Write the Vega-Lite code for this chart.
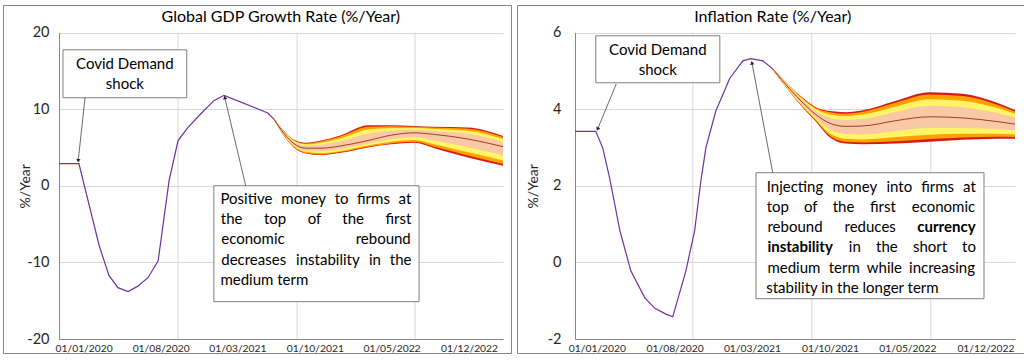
{
  "$schema": "https://vega.github.io/schema/vega-lite/v6.json",
  "background": "white",
  "padding": {"left": 2, "top": 4, "right": 0, "bottom": 0},
  "spacing": 4,
  "config": {
    "font": "Lato",
    "view": {"stroke": "#848484", "strokeWidth": 1},
    "axis": {"labelFont": "Lato", "titleFont": "Lato", "labelColor": "#262626", "titleColor": "#262626", "domainColor": "#868686", "gridColor": "#D9D9D9", "ticks": false}
  },
  "datasets": {
    "gdp": [
      {"date": "2019/10/25", "v": 2.9},
      {"date": "2019/12/19", "v": 2.9},
      {"date": "2020/02/13", "v": -7.8},
      {"date": "2020/03/11", "v": -11.7},
      {"date": "2020/04/05", "v": -13.3},
      {"date": "2020/05/03", "v": -13.8},
      {"date": "2020/05/30", "v": -13.1},
      {"date": "2020/06/27", "v": -12.0},
      {"date": "2020/07/25", "v": -9.8},
      {"date": "2020/08/24", "v": 0.6},
      {"date": "2020/09/18", "v": 5.9},
      {"date": "2020/10/15", "v": 7.6},
      {"date": "2020/11/20", "v": 9.4},
      {"date": "2020/12/26", "v": 11.1},
      {"date": "2021/01/23", "v": 11.8},
      {"date": "2021/05/24", "v": 9.5},
      {"date": "2021/06/10", "v": 8.7}
    ],
    "gdpFan": [
      {"date": "2021/06/10", "hi3": 8.8, "hi2": 8.79, "hi1": 8.77, "hi0": 8.75, "mid": 8.7, "lo0": 8.65, "lo1": 8.63, "lo2": 8.61, "lo3": 8.6},
      {"date": "2021/07/08", "hi3": 7.1, "hi2": 7.07, "hi1": 7.02, "hi0": 6.94, "mid": 6.8, "lo0": 6.67, "lo1": 6.59, "lo2": 6.53, "lo3": 6.5},
      {"date": "2021/08/04", "hi3": 6.0, "hi2": 5.95, "hi1": 5.86, "hi0": 5.73, "mid": 5.5, "lo0": 5.28, "lo1": 5.14, "lo2": 5.05, "lo3": 5.0},
      {"date": "2021/09/06", "hi3": 5.6, "hi2": 5.53, "hi1": 5.4, "hi0": 5.22, "mid": 4.9, "lo0": 4.58, "lo1": 4.4, "lo2": 4.27, "lo3": 4.2},
      {"date": "2021/10/18", "hi3": 5.9, "hi2": 5.8, "hi1": 5.62, "hi0": 5.35, "mid": 4.9, "lo0": 4.5, "lo1": 4.25, "lo2": 4.09, "lo3": 4.0},
      {"date": "2021/12/12", "hi3": 6.6, "hi2": 6.46, "hi1": 6.21, "hi0": 5.83, "mid": 5.2, "lo0": 4.8, "lo1": 4.55, "lo2": 4.39, "lo3": 4.3},
      {"date": "2022/02/25", "hi3": 7.9, "hi2": 7.7, "hi1": 7.34, "hi0": 6.8, "mid": 5.9, "lo0": 5.5, "lo1": 5.25, "lo2": 5.09, "lo3": 5.0},
      {"date": "2022/04/30", "hi3": 7.9, "hi2": 7.77, "hi1": 7.54, "hi0": 7.19, "mid": 6.6, "lo0": 6.06, "lo1": 5.74, "lo2": 5.52, "lo3": 5.4},
      {"date": "2022/07/02", "hi3": 7.8, "hi2": 7.71, "hi1": 7.55, "hi0": 7.31, "mid": 6.9, "lo0": 6.32, "lo1": 5.96, "lo2": 5.73, "lo3": 5.6},
      {"date": "2022/08/27", "hi3": 7.7, "hi2": 7.6, "hi1": 7.42, "hi0": 7.15, "mid": 6.7, "lo0": 5.89, "lo1": 5.4, "lo2": 5.08, "lo3": 4.9},
      {"date": "2022/11/28", "hi3": 7.6, "hi2": 7.45, "hi1": 7.18, "hi0": 6.78, "mid": 6.1, "lo0": 5.02, "lo1": 4.37, "lo2": 3.94, "lo3": 3.7},
      {"date": "2023/03/05", "hi3": 6.5, "hi2": 6.36, "hi1": 6.11, "hi0": 5.73, "mid": 5.1, "lo0": 3.98, "lo1": 3.3, "lo2": 2.85, "lo3": 2.6}
    ],
    "gdpGrid": [{"date": "2020/09/18", "lo": -20, "hi": 20}, {"date": "2021/08/13", "lo": -20, "hi": 20}, {"date": "2022/07/05", "lo": -20, "hi": 20}],
    "gdpBox": [
      {"date": "2019/11/05", "date2": "2020/10/12", "v": 17.74, "v2": 11.48},
      {"date": "2020/12/26", "date2": "2022/07/16", "v": 0, "v2": -15.13}
    ],
    "gdpArrow": [
      {"id": "a", "date": "2020/01/05", "v": 11.48, "date2": "2019/12/17", "v2": 3.26},
      {"id": "b", "date": "2021/03/24", "v": 0, "date2": "2021/01/25", "v2": 11.52}
    ],
    "gdpText": [
      {"k": "h", "date": "2021/06/29", "v": 21.98, "t": "Global GDP Growth Rate (%/Year)"},
      {"k": "c", "date": "2020/04/24", "v": 15.92, "t": "Covid Demand"},
      {"k": "c", "date": "2020/04/24", "v": 13.31, "t": "shock"},
      {"k": "c", "date": "2021/03/26", "v": -1.74, "t": "Positive"},
      {"k": "c", "date": "2021/08/31", "v": -1.74, "t": "money"},
      {"k": "c", "date": "2021/12/14", "v": -1.74, "t": "to"},
      {"k": "c", "date": "2022/03/12", "v": -1.74, "t": "firms"},
      {"k": "c", "date": "2022/06/07", "v": -1.74, "t": "at"},
      {"k": "c", "date": "2021/02/13", "v": -4.34, "t": "the"},
      {"k": "c", "date": "2021/06/13", "v": -4.34, "t": "top"},
      {"k": "c", "date": "2021/09/30", "v": -4.34, "t": "of"},
      {"k": "c", "date": "2022/01/15", "v": -4.34, "t": "the"},
      {"k": "c", "date": "2022/05/20", "v": -4.34, "t": "first"},
      {"k": "c", "date": "2021/04/13", "v": -6.95, "t": "economic"},
      {"k": "c", "date": "2022/04/08", "v": -6.95, "t": "rebound"},
      {"k": "c", "date": "2021/04/15", "v": -9.65, "t": "decreases"},
      {"k": "c", "date": "2021/11/06", "v": -9.65, "t": "instability"},
      {"k": "c", "date": "2022/03/16", "v": -9.65, "t": "in"},
      {"k": "c", "date": "2022/05/26", "v": -9.65, "t": "the"},
      {"k": "l", "date": "2021/01/13", "v": -12.26, "t": "medium term"}
    ],
    "inf": [
      {"date": "2019/11/02", "v": 3.42},
      {"date": "2019/12/29", "v": 3.42},
      {"date": "2020/01/17", "v": 2.99},
      {"date": "2020/02/05", "v": 2.2},
      {"date": "2020/03/04", "v": 0.83},
      {"date": "2020/04/03", "v": -0.22},
      {"date": "2020/05/11", "v": -0.92},
      {"date": "2020/06/08", "v": -1.2},
      {"date": "2020/07/08", "v": -1.35},
      {"date": "2020/07/27", "v": -1.42},
      {"date": "2020/09/01", "v": -0.22},
      {"date": "2020/09/25", "v": 0.83},
      {"date": "2020/10/12", "v": 2.13},
      {"date": "2020/10/26", "v": 3.0},
      {"date": "2020/11/22", "v": 3.95},
      {"date": "2020/12/30", "v": 4.8},
      {"date": "2021/02/04", "v": 5.26},
      {"date": "2021/02/26", "v": 5.32},
      {"date": "2021/03/31", "v": 5.26},
      {"date": "2021/04/27", "v": 5.05}
    ],
    "infFan": [
      {"date": "2021/04/27", "hi3": 5.07, "hi2": 5.07, "hi1": 5.06, "hi0": 5.06, "mid": 5.05, "lo0": 5.04, "lo1": 5.04, "lo2": 5.03, "lo3": 5.03},
      {"date": "2021/06/13", "hi3": 4.6, "hi2": 4.59, "hi1": 4.58, "hi0": 4.56, "mid": 4.52, "lo0": 4.48, "lo1": 4.46, "lo2": 4.45, "lo3": 4.44},
      {"date": "2021/07/19", "hi3": 4.29, "hi2": 4.28, "hi1": 4.25, "hi0": 4.22, "mid": 4.16, "lo0": 4.1, "lo1": 4.07, "lo2": 4.04, "lo3": 4.03},
      {"date": "2021/08/23", "hi3": 4.05, "hi2": 4.03, "hi1": 4.0, "hi0": 3.95, "mid": 3.86, "lo0": 3.78, "lo1": 3.73, "lo2": 3.7, "lo3": 3.68},
      {"date": "2021/10/01", "hi3": 3.95, "hi2": 3.92, "hi1": 3.86, "hi0": 3.77, "mid": 3.63, "lo0": 3.46, "lo1": 3.36, "lo2": 3.3, "lo3": 3.26},
      {"date": "2021/11/13", "hi3": 3.92, "hi2": 3.88, "hi1": 3.82, "hi0": 3.72, "mid": 3.55, "lo0": 3.35, "lo1": 3.23, "lo2": 3.15, "lo3": 3.1},
      {"date": "2021/12/30", "hi3": 3.97, "hi2": 3.93, "hi1": 3.86, "hi0": 3.74, "mid": 3.56, "lo0": 3.34, "lo1": 3.21, "lo2": 3.13, "lo3": 3.08},
      {"date": "2022/03/31", "hi3": 4.22, "hi2": 4.17, "hi1": 4.07, "hi0": 3.93, "mid": 3.7, "lo0": 3.43, "lo1": 3.27, "lo2": 3.16, "lo3": 3.1},
      {"date": "2022/07/01", "hi3": 4.44, "hi2": 4.38, "hi1": 4.26, "hi0": 4.09, "mid": 3.8, "lo0": 3.51, "lo1": 3.33, "lo2": 3.22, "lo3": 3.15},
      {"date": "2022/09/30", "hi3": 4.4, "hi2": 4.34, "hi1": 4.22, "hi0": 4.05, "mid": 3.77, "lo0": 3.51, "lo1": 3.36, "lo2": 3.26, "lo3": 3.2},
      {"date": "2022/12/29", "hi3": 4.18, "hi2": 4.13, "hi1": 4.04, "hi0": 3.91, "mid": 3.68, "lo0": 3.48, "lo1": 3.36, "lo2": 3.28, "lo3": 3.23},
      {"date": "2023/02/20", "hi3": 3.98, "hi2": 3.94, "hi1": 3.88, "hi0": 3.78, "mid": 3.61, "lo0": 3.44, "lo1": 3.34, "lo2": 3.27, "lo3": 3.23}
    ],
    "infGrid": [{"date": "2020/09/20", "lo": -2, "hi": 6}, {"date": "2021/08/12", "lo": -2, "hi": 6}, {"date": "2022/07/04", "lo": -2, "hi": 6}],
    "infBox": [
      {"date": "2019/12/29", "date2": "2020/12/03", "v": 5.914, "v2": 4.688},
      {"date": "2021/03/12", "date2": "2022/11/27", "v": 2.34, "v2": -0.948}
    ],
    "infArrow": [
      {"id": "a", "date": "2020/02/23", "v": 4.654, "date2": "2020/01/03", "v2": 3.48},
      {"id": "b", "date": "2021/04/27", "v": 2.34, "date2": "2021/03/01", "v2": 5.21}
    ],
    "infText": [
      {"k": "h", "date": "2021/04/27", "v": 6.397, "t": "Inflation Rate (%/Year)"},
      {"k": "c", "date": "2020/06/16", "v": 5.549, "t": "Covid Demand"},
      {"k": "c", "date": "2020/06/16", "v": 5.027, "t": "shock"},
      {"k": "c", "date": "2021/06/27", "v": 1.956, "t": "Injecting"},
      {"k": "c", "date": "2021/12/08", "v": 1.956, "t": "money"},
      {"k": "c", "date": "2022/04/09", "v": 1.956, "t": "into"},
      {"k": "c", "date": "2022/07/23", "v": 1.956, "t": "firms"},
      {"k": "c", "date": "2022/10/18", "v": 1.956, "t": "at"},
      {"k": "c", "date": "2021/05/11", "v": 1.434, "t": "top"},
      {"k": "c", "date": "2021/08/09", "v": 1.434, "t": "of"},
      {"k": "c", "date": "2021/11/07", "v": 1.434, "t": "the"},
      {"k": "c", "date": "2022/02/23", "v": 1.434, "t": "first"},
      {"k": "c", "date": "2022/08/08", "v": 1.434, "t": "economic"},
      {"k": "c", "date": "2021/06/27", "v": 0.913, "t": "rebound"},
      {"k": "c", "date": "2022/01/19", "v": 0.913, "t": "reduces"},
      {"k": "b", "date": "2022/08/16", "v": 0.913, "t": "currency"},
      {"k": "b", "date": "2021/07/11", "v": 0.391, "t": "instability"},
      {"k": "c", "date": "2021/12/08", "v": 0.391, "t": "in"},
      {"k": "c", "date": "2022/03/06", "v": 0.391, "t": "the"},
      {"k": "c", "date": "2022/07/02", "v": 0.391, "t": "short"},
      {"k": "c", "date": "2022/10/17", "v": 0.391, "t": "to"},
      {"k": "c", "date": "2021/06/24", "v": -0.147, "t": "medium"},
      {"k": "c", "date": "2021/11/09", "v": -0.147, "t": "term"},
      {"k": "c", "date": "2022/02/27", "v": -0.147, "t": "while"},
      {"k": "c", "date": "2022/08/04", "v": -0.147, "t": "increasing"},
      {"k": "l", "date": "2021/04/09", "v": -0.668, "t": "stability in the longer term"}
    ]
  },
  "hconcat": [
    {
      "width": 508,
      "height": 348,
      "encoding": {
        "x": {"field": "date", "type": "temporal",
          "scale": {"domain": [{"year": 2019, "month": 10, "date": 25}, {"year": 2023, "month": 3, "date": 5}], "range": [56, 500], "nice": false},
          "axis": {"values": [{"year": 2020, "month": 1, "date": 1}, {"year": 2020, "month": 8, "date": 1}, {"year": 2021, "month": 3, "date": 1}, {"year": 2021, "month": 10, "date": 1}, {"year": 2022, "month": 5, "date": 1}, {"year": 2022, "month": 12, "date": 1}], "format": "%d/%m/%Y", "title": null, "grid": false, "labelFontSize": 10.3, "labelPadding": 4, "offset": -14, "labelOverlap": false, "labelFlush": false}},
        "y": {"field": "v", "type": "quantitative",
          "scale": {"domain": [-20, 20], "range": [334, 27.5], "nice": false, "zero": false},
          "axis": {"values": [-20, -10, 0, 10, 20], "labelExpr": "'' + datum.value", "title": "%/Year", "grid": true, "labelFontSize": 14.5, "labelPadding": 10, "offset": -56, "titleFontSize": 14, "titleFontWeight": "normal", "titlePadding": -6}}
      },
      "layer": [
        {"data": {"name": "gdpGrid"}, "mark": {"type": "rule", "color": "#D9D9D9", "strokeWidth": 1}, "encoding": {"y": {"field": "lo", "type": "quantitative"}, "y2": {"field": "hi"}}},
        {"data": {"name": "gdpFan"}, "mark": {"type": "area", "color": "#D7191C", "interpolate": "monotone"}, "encoding": {"y": {"field": "hi3", "type": "quantitative"}, "y2": {"field": "lo3"}}},
        {"data": {"name": "gdpFan"}, "mark": {"type": "area", "color": "#FFA200", "interpolate": "monotone"}, "encoding": {"y": {"field": "hi2", "type": "quantitative"}, "y2": {"field": "lo2"}}},
        {"data": {"name": "gdpFan"}, "mark": {"type": "area", "color": "#FFF566", "interpolate": "monotone"}, "encoding": {"y": {"field": "hi1", "type": "quantitative"}, "y2": {"field": "lo1"}}},
        {"data": {"name": "gdpFan"}, "mark": {"type": "area", "color": "#F9C9A5", "interpolate": "monotone"}, "encoding": {"y": {"field": "hi0", "type": "quantitative"}, "y2": {"field": "lo0"}}},
        {"data": {"name": "gdpFan"}, "mark": {"type": "line", "color": "#9E3D2B", "strokeWidth": 1, "interpolate": "monotone"}, "encoding": {"y": {"field": "mid", "type": "quantitative"}}},
        {"data": {"name": "gdp"}, "mark": {"type": "line", "color": "#7030A0", "strokeWidth": 1.2}},
        {"data": {"name": "gdpBox"}, "mark": {"type": "rect", "fill": "white", "stroke": "#7F7F7F", "strokeWidth": 1}, "encoding": {"x2": {"field": "date2"}, "y2": {"field": "v2"}}},
        {"data": {"name": "gdpArrow"}, "mark": {"type": "rule", "color": "#595959", "strokeWidth": 0.9}, "encoding": {"x2": {"field": "date2"}, "y2": {"field": "v2"}}},
        {"data": {"name": "gdpArrow"}, "transform": [{"filter": "datum.id == 'a'"}], "mark": {"type": "point", "shape": "triangle-up", "angle": 187, "filled": true, "color": "#222222", "size": 18, "opacity": 1}, "encoding": {"x": {"field": "date2", "type": "temporal"}, "y": {"field": "v2", "type": "quantitative"}}},
        {"data": {"name": "gdpArrow"}, "transform": [{"filter": "datum.id == 'b'"}], "mark": {"type": "point", "shape": "triangle-up", "angle": 346, "filled": true, "color": "#222222", "size": 18, "opacity": 1}, "encoding": {"x": {"field": "date2", "type": "temporal"}, "y": {"field": "v2", "type": "quantitative"}}},
        {"data": {"name": "gdpText"}, "transform": [{"filter": "datum.k == 'h'"}], "mark": {"type": "text", "align": "center", "baseline": "middle", "fontSize": 16, "font": "Lato", "color": "#000000"}, "encoding": {"text": {"field": "t"}}},
        {"data": {"name": "gdpText"}, "transform": [{"filter": "datum.k == 'c'"}], "mark": {"type": "text", "align": "center", "baseline": "middle", "fontSize": 15, "font": "Lato", "color": "#000000"}, "encoding": {"text": {"field": "t"}}},
        {"data": {"name": "gdpText"}, "transform": [{"filter": "datum.k == 'l'"}], "mark": {"type": "text", "align": "left", "baseline": "middle", "fontSize": 15, "font": "Lato", "color": "#000000"}, "encoding": {"text": {"field": "t"}}}
      ]
    },
    {
      "width": 508,
      "height": 348,
      "encoding": {
        "x": {"field": "date", "type": "temporal",
          "scale": {"domain": [{"year": 2019, "month": 11, "date": 2}, {"year": 2023, "month": 2, "date": 20}], "range": [58, 498], "nice": false},
          "axis": {"values": [{"year": 2020, "month": 1, "date": 1}, {"year": 2020, "month": 8, "date": 1}, {"year": 2021, "month": 3, "date": 1}, {"year": 2021, "month": 10, "date": 1}, {"year": 2022, "month": 5, "date": 1}, {"year": 2022, "month": 12, "date": 1}], "format": "%d/%m/%Y", "title": null, "grid": false, "labelFontSize": 10.3, "labelPadding": 4, "offset": -14, "labelOverlap": false, "labelFlush": false}},
        "y": {"field": "v", "type": "quantitative",
          "scale": {"domain": [-2, 6], "range": [334, 27.5], "nice": false, "zero": false},
          "axis": {"values": [-2, 0, 2, 4, 6], "labelExpr": "'' + datum.value", "title": "%/Year", "grid": true, "labelFontSize": 14.5, "labelPadding": 14, "offset": -58, "titleFontSize": 14, "titleFontWeight": "normal", "titlePadding": 7}}
      },
      "layer": [
        {"data": {"name": "infGrid"}, "mark": {"type": "rule", "color": "#D9D9D9", "strokeWidth": 1}, "encoding": {"y": {"field": "lo", "type": "quantitative"}, "y2": {"field": "hi"}}},
        {"data": {"name": "infFan"}, "mark": {"type": "area", "color": "#D7191C", "interpolate": "monotone"}, "encoding": {"y": {"field": "hi3", "type": "quantitative"}, "y2": {"field": "lo3"}}},
        {"data": {"name": "infFan"}, "mark": {"type": "area", "color": "#FFA200", "interpolate": "monotone"}, "encoding": {"y": {"field": "hi2", "type": "quantitative"}, "y2": {"field": "lo2"}}},
        {"data": {"name": "infFan"}, "mark": {"type": "area", "color": "#FFF566", "interpolate": "monotone"}, "encoding": {"y": {"field": "hi1", "type": "quantitative"}, "y2": {"field": "lo1"}}},
        {"data": {"name": "infFan"}, "mark": {"type": "area", "color": "#F9C9A5", "interpolate": "monotone"}, "encoding": {"y": {"field": "hi0", "type": "quantitative"}, "y2": {"field": "lo0"}}},
        {"data": {"name": "infFan"}, "mark": {"type": "line", "color": "#9E3D2B", "strokeWidth": 1, "interpolate": "monotone"}, "encoding": {"y": {"field": "mid", "type": "quantitative"}}},
        {"data": {"name": "inf"}, "mark": {"type": "line", "color": "#7030A0", "strokeWidth": 1.2}},
        {"data": {"name": "infBox"}, "mark": {"type": "rect", "fill": "white", "stroke": "#7F7F7F", "strokeWidth": 1}, "encoding": {"x2": {"field": "date2"}, "y2": {"field": "v2"}}},
        {"data": {"name": "infArrow"}, "mark": {"type": "rule", "color": "#595959", "strokeWidth": 0.9}, "encoding": {"x2": {"field": "date2"}, "y2": {"field": "v2"}}},
        {"data": {"name": "infArrow"}, "transform": [{"filter": "datum.id == 'a'"}], "mark": {"type": "point", "shape": "triangle-up", "angle": 202, "filled": true, "color": "#222222", "size": 18, "opacity": 1}, "encoding": {"x": {"field": "date2", "type": "temporal"}, "y": {"field": "v2", "type": "quantitative"}}},
        {"data": {"name": "infArrow"}, "transform": [{"filter": "datum.id == 'b'"}], "mark": {"type": "point", "shape": "triangle-up", "angle": 350, "filled": true, "color": "#222222", "size": 18, "opacity": 1}, "encoding": {"x": {"field": "date2", "type": "temporal"}, "y": {"field": "v2", "type": "quantitative"}}},
        {"data": {"name": "infText"}, "transform": [{"filter": "datum.k == 'h'"}], "mark": {"type": "text", "align": "center", "baseline": "middle", "fontSize": 16, "font": "Lato", "color": "#000000"}, "encoding": {"text": {"field": "t"}}},
        {"data": {"name": "infText"}, "transform": [{"filter": "datum.k == 'c'"}], "mark": {"type": "text", "align": "center", "baseline": "middle", "fontSize": 15, "font": "Lato", "color": "#000000"}, "encoding": {"text": {"field": "t"}}},
        {"data": {"name": "infText"}, "transform": [{"filter": "datum.k == 'b'"}], "mark": {"type": "text", "align": "center", "baseline": "middle", "fontSize": 15, "font": "Lato", "fontWeight": "bold", "color": "#000000"}, "encoding": {"text": {"field": "t"}}},
        {"data": {"name": "infText"}, "transform": [{"filter": "datum.k == 'l'"}], "mark": {"type": "text", "align": "left", "baseline": "middle", "fontSize": 15, "font": "Lato", "color": "#000000"}, "encoding": {"text": {"field": "t"}}}
      ]
    }
  ]
}
